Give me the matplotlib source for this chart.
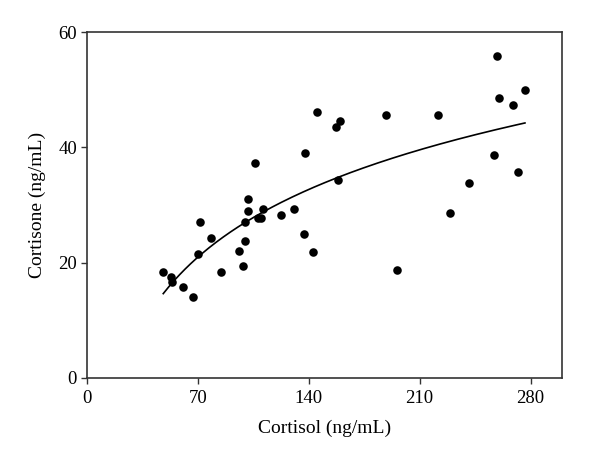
import numpy as np
import matplotlib
matplotlib.use("Agg")
import matplotlib.pyplot as plt

plt.rcParams['font.family'] = ['Liberation Serif', 'DejaVu Serif']

cortisol = [48.3, 53.0, 53.6, 60.6, 67.3, 71.5, 70.0, 78.2, 84.7, 96.1,
            98.8, 99.7, 99.7, 101.9, 101.8, 106.0, 107.9, 110.2, 111.2, 122.6,
            130.8, 136.9, 137.9, 143.0, 145.3, 157.3, 159.8, 158.7, 188.6, 221.6,
            195.7, 229.0, 241.4, 256.7, 258.8, 260.1, 269.1, 276.5, 272.3]
cortisone = [18.3, 17.5, 16.6, 15.8, 14.1, 27.0, 21.5, 24.3, 18.3, 22.0,
             19.4, 23.8, 27.0, 28.9, 31.0, 37.3, 27.8, 27.8, 29.3, 28.3,
             29.3, 24.9, 39.1, 21.9, 46.1, 43.6, 44.6, 34.4, 45.7, 45.6,
             18.7, 28.6, 33.8, 38.6, 55.9, 48.5, 47.4, 50.0, 35.7]

x_ticks = [0, 70, 140, 210, 280]
y_ticks = [0, 20, 40, 60]

x = np.array(cortisol)
y = np.array(cortisone)
b, a = np.polyfit(np.log(x), y, 1)
xf = np.linspace(x.min(), x.max(), 200)
yf = a + b * np.log(xf)

fig = plt.figure(figsize=(6.0, 4.61), dpi=100)
ax = fig.add_axes([0.1445, 0.1807, 0.7925, 0.7493])
ax.scatter(x, y, s=38, color='black', zorder=3, linewidths=0)
ax.plot(xf, yf, color='black', lw=1.2)

ax.set_xlim(0, 300)
ax.set_ylim(0, 60)
ax.set_xticks(x_ticks)
ax.set_yticks(y_ticks)
ax.tick_params(direction='out', length=4, width=1, color='#333333',
               labelsize=13.5, top=False, right=False)
ax.tick_params(axis='x', pad=5)
ax.tick_params(axis='y', pad=3)
for s in ax.spines.values():
    s.set_linewidth(1.2)
    s.set_color('#333333')
ax.set_xlabel('Cortisol (ng/mL)', fontsize=14, labelpad=9)
ax.set_ylabel('Cortisone (ng/mL)', fontsize=14, labelpad=9)
fig.savefig('out.png', dpi=100)
